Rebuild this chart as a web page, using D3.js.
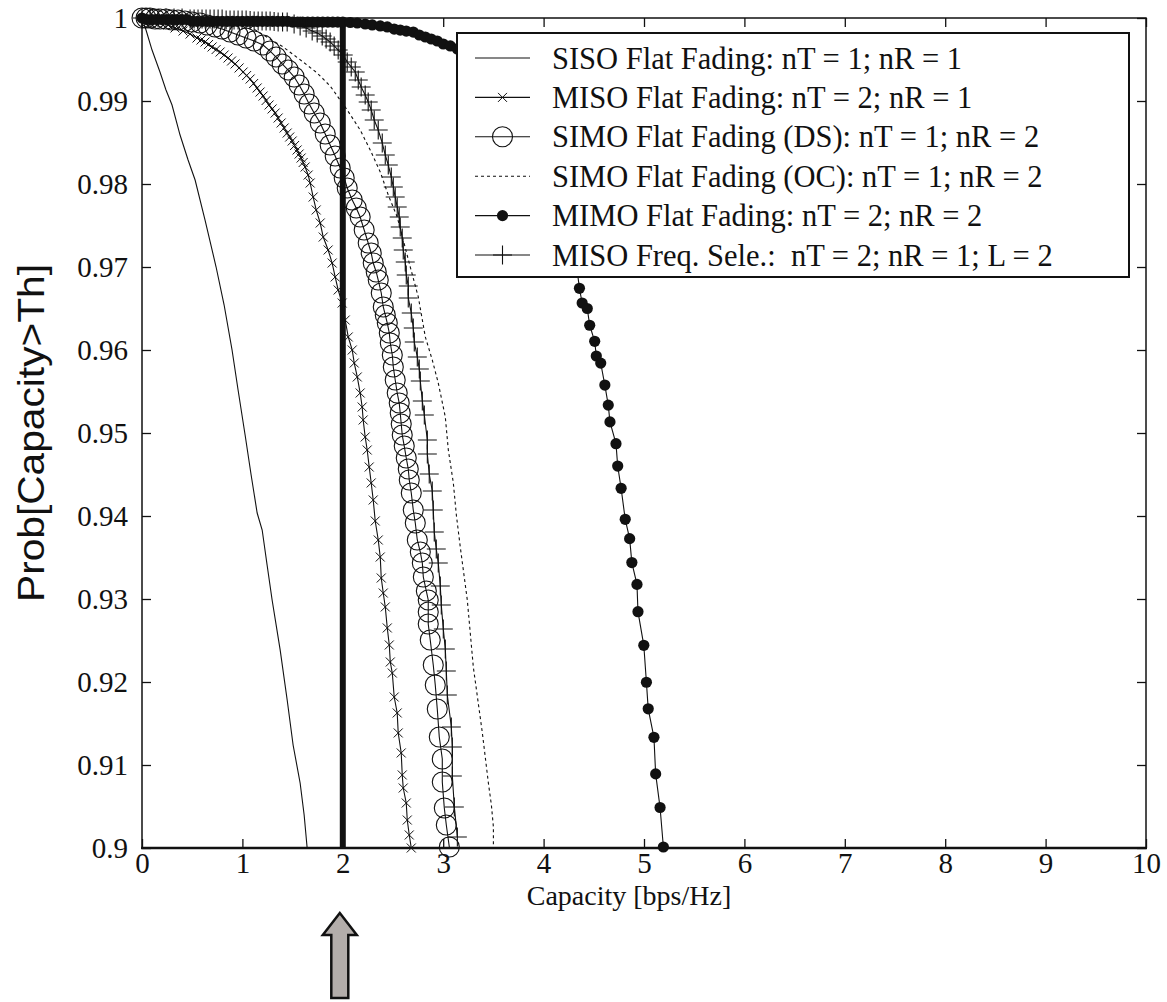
<!DOCTYPE html>
<html><head><meta charset="utf-8">
<script src="https://cdn.jsdelivr.net/npm/d3@7"></script>
<style>body{margin:0;background:#fff}</style>
</head><body>
<svg id="chart" width="1167" height="1002"></svg>
<script>
// ---------------- data ----------------
const xTicks = [0,1,2,3,4,5,6,7,8,9,10];
const xTickLabels = ["0","1","2","3","4","5","6","7","8","9","10"];
const yTicks = [0.9,0.91,0.92,0.93,0.94,0.95,0.96,0.97,0.98,0.99,1];
const yTickLabels = ["0.9","0.91","0.92","0.93","0.94","0.95","0.96","0.97","0.98","0.99","1"];
const threshold = 2;
const xTitle = "Capacity [bps/Hz]";
const yTitle = "Prob[Capacity>Th]";

const sisoFlat = [[0,1],[0.04,0.99855],[0.1,0.99614],[0.179,0.99349],[0.239,0.99133],[0.299,0.98952],[0.379,0.9859],[0.459,0.98289],[0.529,0.98048],[0.628,0.97566],[0.738,0.97],[0.818,0.96542],[0.897,0.96],[0.957,0.95518],[1.027,0.94976],[1.087,0.94494],[1.147,0.94036],[1.197,0.93831],[1.246,0.9341],[1.296,0.92988],[1.376,0.92386],[1.446,0.91783],[1.505,0.91241],[1.575,0.90783],[1.615,0.90398],[1.645,0.9]];

const misoFlat = [[0,1],[0.08,0.99988],[0.179,0.99952],[0.259,0.99916],[0.329,0.9988],[0.409,0.99843],[0.479,0.99807],[0.548,0.99759],[0.588,0.99735],[0.628,0.99711],[0.663,0.99681],[0.698,0.99651],[0.738,0.9962],[0.778,0.9959],[0.818,0.99554],[0.857,0.99518],[0.892,0.99482],[0.927,0.99446],[0.967,0.99398],[1.007,0.99349],[1.042,0.99307],[1.077,0.99265],[1.112,0.99211],[1.147,0.99157],[1.176,0.99108],[1.206,0.9906],[1.236,0.99006],[1.266,0.98952],[1.296,0.98904],[1.326,0.98855],[1.356,0.98795],[1.386,0.98735],[1.416,0.98675],[1.446,0.98614],[1.471,0.98566],[1.496,0.98518],[1.52,0.98464],[1.545,0.9841],[1.565,0.98361],[1.585,0.98313],[1.605,0.98259],[1.625,0.98205],[1.655,0.98108],[1.675,0.98012],[1.705,0.97843],[1.735,0.97687],[1.775,0.9753],[1.805,0.97361],[1.854,0.97205],[1.894,0.97048],[1.924,0.9688],[1.954,0.96723],[1.994,0.96566],[2.024,0.96361],[2.054,0.96157],[2.094,0.96],[2.114,0.95843],[2.144,0.95675],[2.173,0.95482],[2.193,0.95313],[2.203,0.95157],[2.223,0.94952],[2.243,0.94795],[2.263,0.9459],[2.283,0.94398],[2.303,0.94193],[2.323,0.9394],[2.353,0.93711],[2.373,0.93506],[2.383,0.93253],[2.403,0.93072],[2.423,0.92904],[2.443,0.92651],[2.463,0.92446],[2.473,0.92241],[2.493,0.92108],[2.512,0.91819],[2.542,0.91627],[2.552,0.91386],[2.582,0.91145],[2.592,0.9088],[2.602,0.90723],[2.632,0.90542],[2.642,0.90337],[2.662,0.90157],[2.682,0.9]];

const simoDS = [[0,1],[0.04,1],[0.08,1],[0.13,0.99988],[0.179,0.99988],[0.239,0.99988],[0.299,0.99976],[0.359,0.99976],[0.429,0.99964],[0.499,0.99952],[0.578,0.9994],[0.648,0.99916],[0.728,0.99892],[0.798,0.99867],[0.877,0.99831],[0.957,0.99795],[1.037,0.99759],[1.117,0.99723],[1.206,0.99675],[1.276,0.99602],[1.336,0.9953],[1.396,0.99446],[1.456,0.99373],[1.516,0.99289],[1.565,0.99193],[1.615,0.99084],[1.665,0.98964],[1.715,0.98855],[1.775,0.98735],[1.825,0.98602],[1.874,0.9847],[1.924,0.98337],[1.974,0.98193],[2.014,0.98072],[2.044,0.97952],[2.094,0.97807],[2.134,0.97711],[2.173,0.97602],[2.213,0.97446],[2.253,0.97289],[2.283,0.97169],[2.303,0.97048],[2.333,0.9694],[2.353,0.96843],[2.383,0.96687],[2.403,0.96518],[2.423,0.96422],[2.443,0.96325],[2.463,0.96205],[2.473,0.96084],[2.493,0.9594],[2.503,0.95795],[2.522,0.95639],[2.542,0.95482],[2.562,0.95361],[2.572,0.95241],[2.582,0.95108],[2.592,0.94976],[2.612,0.94843],[2.632,0.94699],[2.652,0.94566],[2.662,0.94434],[2.682,0.94277],[2.702,0.94072],[2.722,0.93916],[2.742,0.93711],[2.772,0.93566],[2.792,0.93434],[2.802,0.93265],[2.832,0.93096],[2.851,0.92988],[2.851,0.92843],[2.851,0.92699],[2.871,0.92506],[2.901,0.92205],[2.921,0.91964],[2.941,0.91675],[2.961,0.91337],[2.991,0.91072],[2.991,0.90795],[3.011,0.90482],[3.031,0.90277],[3.061,0.90012]];

const simoOC = [[0,1],[0.379,1],[0.678,0.99988],[0.927,0.99952],[1.097,0.9988],[1.226,0.99783],[1.406,0.99651],[1.605,0.9947],[1.745,0.99337],[1.874,0.99181],[2.044,0.98892],[2.173,0.98651],[2.273,0.9841],[2.373,0.98145],[2.453,0.97867],[2.542,0.97602],[2.602,0.97325],[2.672,0.97],[2.752,0.96639],[2.822,0.96157],[2.891,0.9588],[2.951,0.95602],[3.021,0.95193],[3.051,0.94795],[3.101,0.94398],[3.131,0.94012],[3.17,0.93627],[3.24,0.92988],[3.3,0.92181],[3.39,0.91386],[3.45,0.90783],[3.48,0.90518],[3.5,0.90253],[3.5,0.9]];

const mimoFlat = [[0,1],[0.05,0.9998],[0.1,0.9998],[0.15,0.9998],[0.2,0.9998],[0.25,0.9998],[0.3,0.9998],[0.35,0.9998],[0.4,0.9998],[0.45,0.9998],[0.5,0.9996],[0.55,0.9996],[0.6,0.9996],[0.65,0.9996],[0.7,0.9996],[0.75,0.9996],[0.8,0.9996],[0.85,0.9996],[0.9,0.9996],[0.95,0.9996],[1.0,0.9996],[1.05,0.9996],[1.1,0.9996],[1.15,0.9996],[1.2,0.9996],[1.25,0.9996],[1.3,0.9996],[1.35,0.9996],[1.4,0.9996],[1.45,0.9996],[1.5,0.9995],[1.55,0.9995],[1.6,0.9995],[1.65,0.9995],[1.7,0.9995],[1.75,0.9995],[1.8,0.9995],[1.85,0.9995],[1.9,0.9995],[1.95,0.9995],[2.0,0.9995],[2.074,0.99946],[2.144,0.9994],[2.223,0.99928],[2.293,0.99916],[2.373,0.99904],[2.443,0.99892],[2.512,0.99867],[2.572,0.99855],[2.632,0.99843],[2.702,0.99831],[2.762,0.99795],[2.822,0.99771],[2.881,0.99747],[2.941,0.99723],[3.001,0.99687],[3.071,0.99663],[3.141,0.99627],[3.27,0.99542],[3.42,0.99422],[3.569,0.99277],[3.719,0.99084],[3.868,0.98831],[4.018,0.9847],[4.118,0.98108],[4.217,0.97687],[4.287,0.97325],[4.327,0.97024],[4.357,0.96743],[4.384,0.96566],[4.435,0.965],[4.459,0.96298],[4.509,0.96105],[4.525,0.95928],[4.569,0.95842],[4.61,0.95578],[4.644,0.95336],[4.661,0.95134],[4.721,0.94871],[4.738,0.94602],[4.772,0.94334],[4.813,0.9396],[4.857,0.93727],[4.879,0.93439],[4.93,0.93176],[4.94,0.92847],[4.998,0.92442],[5.024,0.91997],[5.042,0.91677],[5.099,0.91334],[5.116,0.90893],[5.16,0.90488],[5.193,0.90012]];

const misoFreqSel = [[0,1],[0.08,1],[0.16,1],[0.239,1],[0.319,1],[0.399,1],[0.479,0.99988],[0.519,0.99988],[0.558,0.99988],[0.598,0.99988],[0.638,0.99988],[0.678,0.99988],[0.718,0.99988],[0.758,0.99988],[0.798,0.99988],[0.838,0.99976],[0.877,0.99976],[0.917,0.99976],[0.957,0.99976],[0.997,0.99976],[1.037,0.99976],[1.077,0.9997],[1.117,0.99964],[1.157,0.99964],[1.196,0.99964],[1.236,0.99964],[1.276,0.99964],[1.316,0.99958],[1.356,0.99952],[1.4,0.99952],[1.446,0.99952],[1.515,0.99928],[1.575,0.99904],[1.635,0.9988],[1.695,0.99843],[1.745,0.99819],[1.795,0.99783],[1.834,0.99747],[1.874,0.99711],[1.914,0.99663],[1.954,0.99614],[2.004,0.99554],[2.044,0.9947],[2.084,0.9941],[2.124,0.99349],[2.154,0.99253],[2.183,0.99169],[2.223,0.99072],[2.253,0.98988],[2.283,0.98892],[2.313,0.98771],[2.353,0.98651],[2.393,0.98494],[2.423,0.98349],[2.453,0.98229],[2.483,0.98084],[2.503,0.97964],[2.522,0.97843],[2.542,0.97723],[2.562,0.97602],[2.572,0.97482],[2.592,0.97349],[2.602,0.97205],[2.622,0.9706],[2.632,0.96904],[2.652,0.96771],[2.652,0.96627],[2.682,0.96446],[2.702,0.96265],[2.712,0.96096],[2.742,0.95916],[2.762,0.95771],[2.772,0.95627],[2.792,0.95386],[2.812,0.95217],[2.842,0.94916],[2.842,0.94747],[2.861,0.94506],[2.891,0.94301],[2.901,0.94072],[2.911,0.93807],[2.931,0.93602],[2.951,0.93434],[2.971,0.93157],[2.981,0.92928],[3.001,0.92639],[3.021,0.92398],[3.031,0.92133],[3.041,0.91843],[3.081,0.91458],[3.091,0.91217],[3.091,0.90867],[3.111,0.90494],[3.141,0.90133]];

const seriesLabels = [
  "SISO Flat Fading: nT = 1; nR = 1",
  "MISO Flat Fading: nT = 2; nR = 1",
  "SIMO Flat Fading (DS): nT = 1; nR = 2",
  "SIMO Flat Fading (OC): nT = 1; nR = 2",
  "MIMO Flat Fading: nT = 2; nR = 2",
  "MISO Freq. Sele.:  nT = 2; nR = 1; L = 2"
];
const seriesData = [sisoFlat, misoFlat, simoDS, simoOC, mimoFlat, misoFreqSel];
const seriesMarkers = ["none","cross","circle","none","dot","plus"];
const seriesDash = [null,null,null,"3,3",null,null];

// ---------------- drawing ----------------
const L = 142, R = 1146, T = 18, B = 848;
const ink = "#111";
const svg = d3.select("#chart");
const x = d3.scaleLinear().domain([0,10]).range([L,R]);
const y = d3.scaleLinear().domain([0.9,1]).range([B,T]);
const serif = "'Liberation Serif','Times New Roman',serif";

// frame
svg.append("rect").attr("x",L).attr("y",T).attr("width",R-L).attr("height",B-T)
  .attr("fill","none").attr("stroke",ink).attr("stroke-width",1.5);
svg.append("line").attr("x1",L-1).attr("x2",R+1).attr("y1",B).attr("y2",B)
  .attr("stroke",ink).attr("stroke-width",2.5);

// axes via d3
const fmtX = (d,i)=>xTickLabels[i];
const fmtY = (d,i)=>yTickLabels[i];
const gxB = svg.append("g").attr("transform",`translate(0,${B})`)
  .call(d3.axisBottom(x).tickValues(xTicks).tickFormat(fmtX).tickSizeInner(-9).tickSizeOuter(0).tickPadding(4));
const gxT = svg.append("g").attr("transform",`translate(0,${T})`)
  .call(d3.axisTop(x).tickValues(xTicks).tickFormat("").tickSizeInner(-9).tickSizeOuter(0));
const gyL = svg.append("g").attr("transform",`translate(${L},0)`)
  .call(d3.axisLeft(y).tickValues(yTicks).tickFormat(fmtY).tickSizeInner(-9).tickSizeOuter(0).tickPadding(14));
const gyR = svg.append("g").attr("transform",`translate(${R},0)`)
  .call(d3.axisRight(y).tickValues(yTicks).tickFormat("").tickSizeInner(-9).tickSizeOuter(0));
[gxB,gxT,gyL,gyR].forEach(g=>{
  g.attr("font-family",serif).attr("font-size",29);
  g.select(".domain").remove();
  g.selectAll(".tick line").attr("stroke",ink).attr("stroke-width",1.3);
  g.selectAll("text").attr("fill",ink).attr("font-family",serif).attr("font-size",29);
});

// axis titles
svg.append("text").attr("x",629).attr("y",905).attr("text-anchor","middle")
  .attr("font-family",serif).attr("font-size",28).attr("fill",ink).text(xTitle);
svg.append("text").attr("transform",`translate(44,${(T+B)/2}) rotate(-90)`).attr("text-anchor","middle")
  .attr("font-family","'Liberation Sans',Arial,sans-serif").attr("font-size",36).attr("fill",ink)
  .attr("textLength",338).attr("lengthAdjust","spacingAndGlyphs").text(yTitle);

// threshold line
svg.append("line").attr("x1",x(threshold)).attr("x2",x(threshold)).attr("y1",y(1)).attr("y2",y(0.9))
  .attr("stroke",ink).attr("stroke-width",6);

// markers
function drawMarker(sel, type){
  if(type==="cross") sel.append("path").attr("d","M-4.5,-4.5L4.5,4.5M-4.5,4.5L4.5,-4.5").attr("stroke",ink).attr("stroke-width",1).attr("fill","none");
  else if(type==="circle") sel.append("circle").attr("r",10).attr("fill","none").attr("stroke",ink).attr("stroke-width",1.1);
  else if(type==="dot") sel.append("circle").attr("r",5.6).attr("fill",ink);
  else if(type==="plus") sel.append("path").attr("d","M-9.5,0H9.5M0,-9.5V9.5").attr("stroke",ink).attr("stroke-width",1.1).attr("fill","none");
}
const line = d3.line().x(d=>x(d[0])).y(d=>y(d[1]));
seriesData.forEach((data,i)=>{
  const g = svg.append("g");
  g.append("path").attr("d",line(data)).attr("fill","none").attr("stroke",ink)
    .attr("stroke-width",1.1).attr("stroke-dasharray",seriesDash[i]);
  if(seriesMarkers[i]!=="none"){
    g.selectAll("g.m").data(data).enter().append("g").attr("class","m")
      .attr("transform",d=>`translate(${x(d[0])},${y(d[1])})`)
      .each(function(){ drawMarker(d3.select(this), seriesMarkers[i]); });
  }
});

// legend
const lg = svg.append("g");
const lx0 = 457, ly0 = 33, lw = 672, lh = 244;
lg.append("rect").attr("x",lx0).attr("y",ly0).attr("width",lw).attr("height",lh)
  .attr("fill","#fff").attr("stroke",ink).attr("stroke-width",2);
seriesLabels.forEach((lab,i)=>{
  const cy = ly0 + 25 + i*39.4;
  const row = lg.append("g");
  row.append("line").attr("x1",lx0+18).attr("x2",lx0+73).attr("y1",cy).attr("y2",cy)
    .attr("stroke",ink).attr("stroke-width",1.1).attr("stroke-dasharray",seriesDash[i]);
  if(seriesMarkers[i]!=="none"){
    const m = row.append("g").attr("transform",`translate(${lx0+45.5},${cy})`);
    drawMarker(m, seriesMarkers[i]);
  }
  row.append("text").attr("x",lx0+95).attr("y",cy).attr("dy","0.35em")
    .attr("font-family",serif).attr("font-size",30.5).attr("fill",ink)
    .style("white-space","pre").attr("xml:space","preserve").text(lab);
});

// arrow pointing at threshold
const ax = x(threshold) - 3;
const arrowPts = [[ax,913],[ax+17,935],[ax+8.5,935],[ax+8.5,998],[ax-8.5,998],[ax-8.5,935],[ax-17,935]];
svg.append("polygon").attr("points",arrowPts.map(p=>p.join(",")).join(" "))
  .attr("fill","#b3adaa").attr("stroke",ink).attr("stroke-width",2.5).attr("stroke-linejoin","miter");
</script>
</body></html>
